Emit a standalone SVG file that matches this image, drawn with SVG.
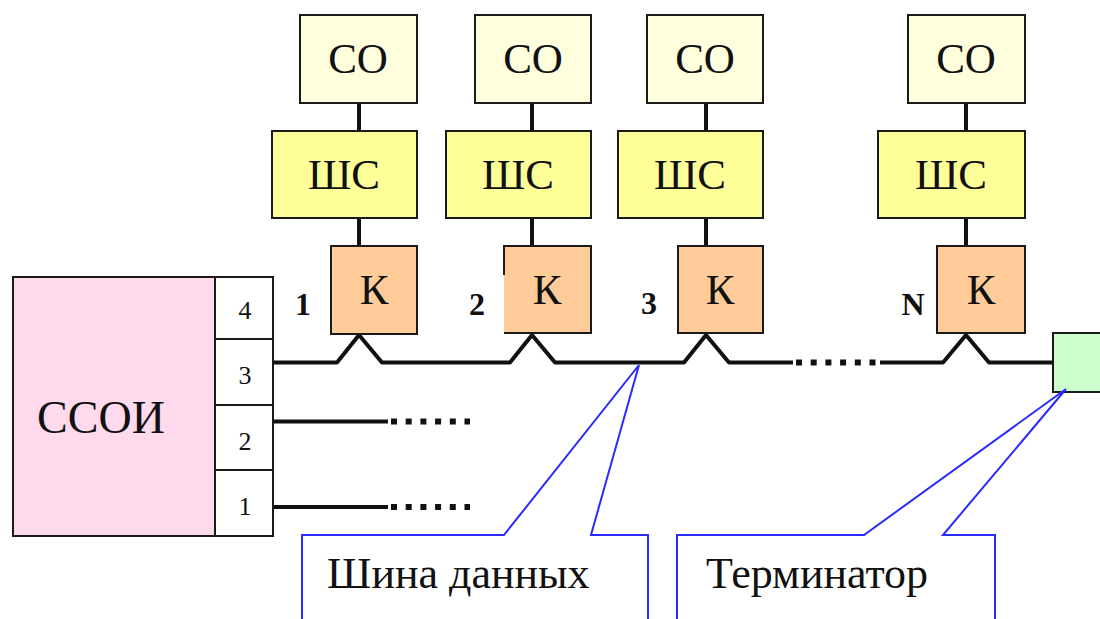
<svg xmlns="http://www.w3.org/2000/svg" width="1100" height="619" viewBox="0 0 1100 619">
  <style>
    .box { stroke: #1a1a1a; stroke-width: 2; }
    .co { fill: #ffffdd; }
    .shs { fill: #ffff99; }
    .k { fill: #ffcc99; }
    text { font-family: 'Liberation Serif', 'Times New Roman', 'DejaVu Serif', serif; fill: #111; }
    .lbl { font-size: 43px; text-anchor: middle; }
    .big { font-size: 46px; }
    .port { font-size: 26px; text-anchor: middle; }
    .num { font-size: 32px; font-weight: bold; text-anchor: middle; }
    .wire { fill: none; stroke: #111; stroke-width: 4; stroke-linejoin: round; }
    .dots { fill: none; stroke: #111; stroke-width: 6; stroke-dasharray: 6 8.7; }
    .call { fill: #ffffff; stroke: #2a2aff; stroke-width: 2; }
    .calltext { font-size: 44px; }
  </style>

  <!-- connectors: stubs between blocks, data bus with taps, idle ports -->
  <g id="connectors">
    <path class="wire" d="M359,103 V131 M359,218 V246 M532,103 V131 M532,218 V246 M706,103 V131 M706,218 V246 M966,103 V131 M966,218 V246"/>
    <path class="wire" d="M273,362.5 H337 L359,335 L382,362.5 H510 L532,335 L555,362.5 H684 L706,335 L729,362.5 H793"/>
    <path class="dots" d="M796,362.5 H880"/>
    <path class="wire" d="M880,362.5 H943 L966,335 L989,362.5 H1053"/>
    <path class="wire" d="M273,421.5 H388 M273,507 H388"/>
    <path class="dots" d="M391,421.5 H470 M391,507 H470"/>
  </g>

  <!-- ССОИ with ports -->
  <g id="ssoi">
    <rect x="13" y="277" width="202" height="259" fill="#ffd9ec" class="box"/>
    <text class="lbl big" x="101" y="433">ССОИ</text>
  </g>
  <g id="ports">
    <rect x="215" y="277" width="58" height="62" fill="#fff" class="box"/>
    <rect x="215" y="339" width="58" height="66" fill="#fff" class="box"/>
    <rect x="215" y="405" width="58" height="65" fill="#fff" class="box"/>
    <rect x="215" y="470" width="58" height="66" fill="#fff" class="box"/>
    <text class="port" x="245" y="319">4</text>
    <text class="port" x="245" y="384">3</text>
    <text class="port" x="245" y="450">2</text>
    <text class="port" x="245" y="515">1</text>
  </g>

  <!-- subscriber chain 1 -->
  <g id="node1">
    <rect class="box co" x="300" y="15" width="117" height="88"/>
    <text class="lbl" x="358" y="73">СО</text>
    <rect class="box shs" x="272" y="131" width="145" height="87"/>
    <text class="lbl" x="344" y="189">ШС</text>
    <rect class="box k" x="331" y="246" width="86" height="88"/>
    <text class="lbl" x="374" y="304">К</text>
    <text class="num" x="303" y="315">1</text>
  </g>

  <!-- subscriber chain 2 -->
  <g id="node2">
    <rect class="box co" x="475" y="15" width="116" height="88"/>
    <text class="lbl" x="533" y="73">СО</text>
    <rect class="box shs" x="446" y="131" width="145" height="87"/>
    <text class="lbl" x="518" y="189">ШС</text>
    <rect class="k" x="504" y="246" width="87" height="87"/>
    <path fill="none" stroke="#1a1a1a" stroke-width="2" d="M504,275 V246 H591 V333 H504"/>
    <text class="lbl" x="547" y="304">К</text>
    <text class="num" x="477" y="315">2</text>
  </g>

  <!-- subscriber chain 3 -->
  <g id="node3">
    <rect class="box co" x="647" y="15" width="116" height="88"/>
    <text class="lbl" x="705" y="73">СО</text>
    <rect class="box shs" x="618" y="131" width="145" height="87"/>
    <text class="lbl" x="690" y="189">ШС</text>
    <rect class="box k" x="678" y="246" width="85" height="87"/>
    <text class="lbl" x="720" y="304">К</text>
    <text class="num" x="649" y="314">3</text>
  </g>

  <!-- subscriber chain N -->
  <g id="nodeN">
    <rect class="box co" x="908" y="15" width="117" height="88"/>
    <text class="lbl" x="966" y="73">СО</text>
    <rect class="box shs" x="878" y="131" width="147" height="87"/>
    <text class="lbl" x="951" y="189">ШС</text>
    <rect class="box k" x="937" y="246" width="88" height="87"/>
    <text class="lbl" x="981" y="304">К</text>
    <text class="num" x="913" y="315">N</text>
  </g>

  <!-- bus terminator -->
  <g id="terminator">
    <rect class="box" x="1053" y="333" width="60" height="59" fill="#ccffcc"/>
  </g>

  <!-- callouts -->
  <g id="callout-bus">
    <path class="call" d="M302,625 V535 H504 L639,365 L591,535 H648 V625"/>
    <text class="calltext" x="327" y="588">Шина данных</text>
  </g>
  <g id="callout-term">
    <path class="call" d="M677,625 V535 H864 L1066,389 L943,535 H995 V625"/>
    <text class="calltext" x="706" y="588">Терминатор</text>
  </g>
</svg>
